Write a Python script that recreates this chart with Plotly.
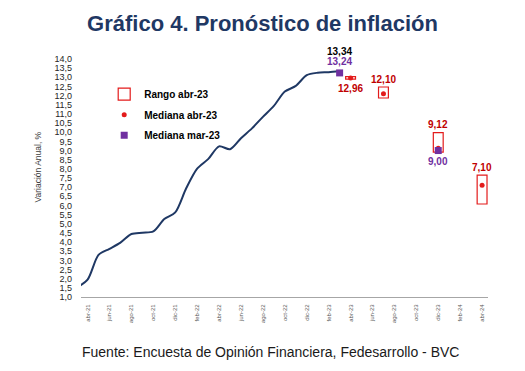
import plotly.graph_objects as go

# ---------------- data ----------------
MESES = ["ene", "feb", "mar", "abr", "may", "jun", "jul", "ago", "sep", "oct", "nov", "dic"]
# monthly axis from mar-21 to abr-24
axis_months = [f"{MESES[m % 12]}-{21 + m // 12}" for m in range(2, 40)]
pos = {lab: i for i, lab in enumerate(axis_months)}

tick_labels = ["abr-21", "jun-21", "ago-21", "oct-21", "dic-21", "feb-22", "abr-22",
               "jun-22", "ago-22", "oct-22", "dic-22", "feb-23", "abr-23", "jun-23",
               "ago-23", "oct-23", "dic-23", "feb-24", "abr-24"]
y_ticks = [1.0 + 0.5 * i for i in range(27)]

inflation_months = ["mar-21", "abr-21", "may-21", "jun-21", "jul-21", "ago-21", "sep-21",
                    "oct-21", "nov-21", "dic-21", "ene-22", "feb-22", "mar-22", "abr-22",
                    "may-22", "jun-22", "jul-22", "ago-22", "sep-22", "oct-22", "nov-22",
                    "dic-22", "ene-23", "feb-23", "mar-23"]
inflation = [1.51, 1.95, 3.30, 3.63, 3.97, 4.44, 4.51, 4.58, 5.26, 5.62, 6.94, 8.01,
             8.53, 9.23, 9.07, 9.67, 10.21, 10.84, 11.44, 12.22, 12.53, 13.12, 13.25,
             13.28, 13.34]

fc_months = ["abr-23", "jul-23", "dic-23", "abr-24"]
fc_median = [12.96, 12.10, 9.12, 7.10]
fc_low = [12.90, 11.87, 8.91, 6.08]
fc_high = [13.04, 12.47, 9.98, 7.66]
fc_label_side = ["below", "above", "above", "above"]

prev_months = ["mar-23", "dic-23"]
prev_median = [13.24, 9.00]
prev_label_side = ["above", "below"]

# ---------------- styles ----------------
NAVY = "#1F3864"
RED = "#E31B1B"
DARKRED = "#C00000"
PURPLE = "#7030A0"
FONT = "Liberation Sans, Arial, sans-serif"


def fmt(v):
    return f"{v:.2f}".replace(".", ",")


fig = go.Figure()

fig.add_trace(go.Scatter(
    x=[pos[m] for m in inflation_months], y=inflation, mode="lines",
    line=dict(color=NAVY, width=2, shape="spline", smoothing=0.8),
    showlegend=False, hoverinfo="skip"))

fig.add_trace(go.Bar(
    x=[pos[m] for m in fc_months],
    y=[h - l for h, l in zip(fc_high, fc_low)],
    base=fc_low, width=0.9,
    marker=dict(color="rgba(255,255,255,0)", line=dict(color=RED, width=1.2)),
    name="Rango abr-23", legendgroup="a"))

fig.add_trace(go.Scatter(
    x=[pos[m] for m in fc_months], y=fc_median, mode="markers",
    marker=dict(color=RED, size=5, symbol="circle"),
    name="Mediana abr-23", legendgroup="b"))

fig.add_trace(go.Scatter(
    x=[pos[m] for m in prev_months], y=prev_median, mode="markers",
    marker=dict(color=PURPLE, size=7, symbol="square"),
    name="Mediana mar-23", legendgroup="c"))

annotations = []
# last observed value
annotations.append(dict(x=pos[inflation_months[-1]], y=inflation[-1], xref="x", yref="y",
                        text=f"<b>{fmt(inflation[-1])}</b>", showarrow=False,
                        yshift=20, font=dict(size=10, color="#000000", family=FONT)))
for m, med, lo, hi, side in zip(fc_months, fc_median, fc_low, fc_high, fc_label_side):
    if side == "above":
        annotations.append(dict(x=pos[m], y=hi, xref="x", yref="y", text=f"<b>{fmt(med)}</b>",
                                showarrow=False, yshift=8,
                                font=dict(size=10, color=DARKRED, family=FONT)))
    else:
        annotations.append(dict(x=pos[m], y=med, xref="x", yref="y", text=f"<b>{fmt(med)}</b>",
                                showarrow=False, yshift=-10,
                                font=dict(size=10, color=DARKRED, family=FONT)))
for m, v, side in zip(prev_months, prev_median, prev_label_side):
    annotations.append(dict(x=pos[m], y=v, xref="x", yref="y", text=f"<b>{fmt(v)}</b>",
                            showarrow=False, yshift=11 if side == "above" else -11,
                            font=dict(size=10, color=PURPLE, family=FONT)))
# y axis title
annotations.append(dict(x=-0.105, y=0.545, xref="paper", yref="paper",
                        xanchor="center", yanchor="middle",
                        text="Variación Anual, %", textangle=-90, showarrow=False,
                        font=dict(size=8.5, color="#404040", family=FONT)))
# source
annotations.append(dict(x=0.465, y=-0.233, xref="paper", yref="paper", xanchor="center",
                        yanchor="middle",
                        text="Fuente: Encuesta de Opinión Financiera, Fedesarrollo - BVC",
                        showarrow=False, font=dict(size=14, color="#1a1a1a", family=FONT)))

fig.update_layout(
    width=525, height=371,
    margin=dict(l=81, r=37, t=59, b=74),
    paper_bgcolor="white", plot_bgcolor="white",
    separators=",.",
    font=dict(family=FONT),
    title=dict(text="<b>Gráfico 4. Pronóstico de inflación</b>",
               x=0.5, xref="container", xanchor="center",
               y=1 - 23 / 371, yref="container", yanchor="middle",
               font=dict(size=22, color=NAVY, family=FONT)),
    showlegend=True,
    legend=dict(x=0.057, y=0.913, xanchor="left", yanchor="top",
                bgcolor="rgba(0,0,0,0)", tracegroupgap=1.5,
                font=dict(size=10, color="#000000", family=FONT, weight="bold")),
    annotations=annotations,
    xaxis=dict(range=[0.4, 37.54], tickmode="array",
               tickvals=[pos[t] for t in tick_labels], ticktext=tick_labels,
               tickangle=-90, tickfont=dict(size=6, color="#595959", family=FONT),
               showgrid=False, zeroline=False, showline=True, linecolor="#A6A6A6",
               linewidth=1, ticks="", ticklabelstandoff=4, automargin=False),
    yaxis=dict(range=[1, 14], tickmode="array", tickvals=y_ticks,
               tickformat=".1f", tickfont=dict(size=9, color="#262626", family=FONT),
               showgrid=False, zeroline=False, showline=False, ticks="",
               ticklabelstandoff=8, automargin=False),
)

fig.write_html("out.html", config={"displayModeBar": False},
               post_script="document.body.style.margin='0px';")
